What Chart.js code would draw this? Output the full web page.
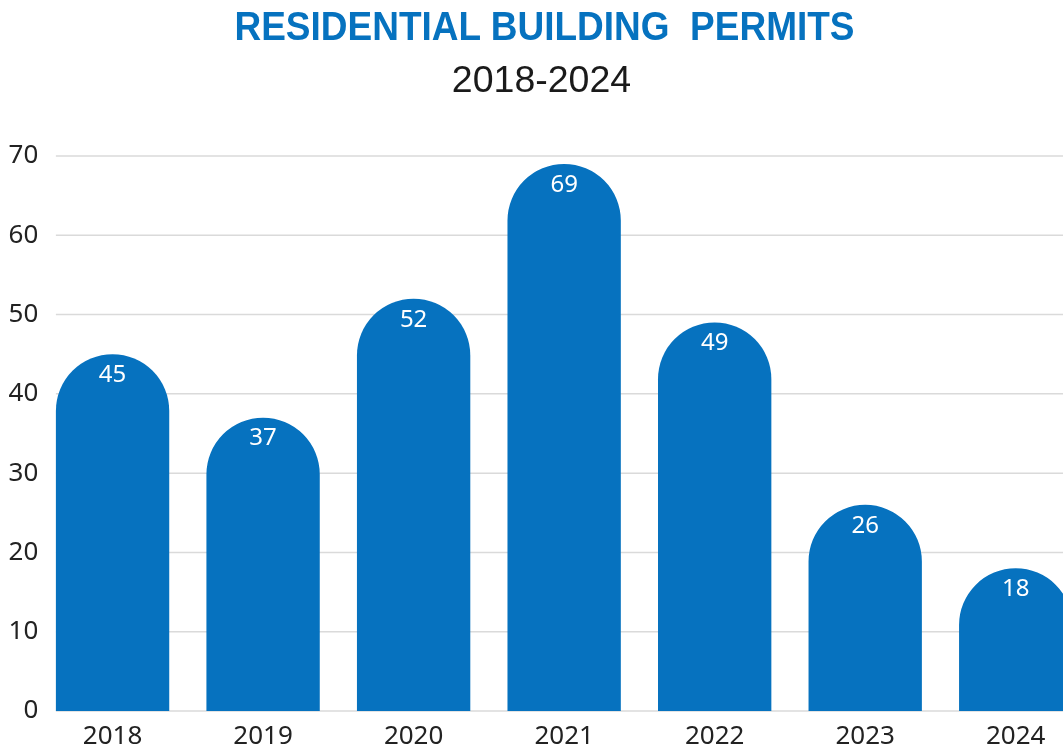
<!DOCTYPE html>
<html>
<head>
<meta charset="utf-8">
<script src="https://cdn.jsdelivr.net/npm/chart.js@4.4.1/dist/chart.umd.min.js"></script>
<style>
  html, body { margin: 0; padding: 0; background: #ffffff; overflow: hidden; }
  #wrap { position: relative; width: 1096px; height: 751px; }
  #titulo {
    position: absolute; top: 6px; left: 0; width: 1089px;
    text-align: center; white-space: pre;
    font: bold 40px/40px "Liberation Sans", Arial, sans-serif;
    color: #0672bf;
    transform: scaleX(0.925);
  }
  #subtitulo {
    position: absolute; top: 59px; left: 0; width: 1083px;
    text-align: center;
    font: 37.5px/40px "Liberation Sans", Arial, sans-serif;
    color: #1a1a1a;
  }
</style>
</head>
<body>
<div id="wrap">
  <div id="titulo">RESIDENTIAL BUILDING  PERMITS</div>
  <div id="subtitulo">2018-2024</div>
  <canvas id="chart" width="1096" height="751"></canvas>
</div>
<script>
// datos del gráfico
const anios = ['2018', '2019', '2020', '2021', '2022', '2023', '2024'];
const permisos = [45, 37, 52, 69, 49, 26, 18];
const ticksY = [0, 10, 20, 30, 40, 50, 60, 70];

const AZUL = '#0672bf';

// lineas de la grilla desde el borde izquierdo de la primera barra
const gridDesdeBarras = {
  id: 'gridDesdeBarras',
  beforeDatasetsDraw(chart) {
    const ctx = chart.ctx;
    const y = chart.scales.y;
    const primera = chart.getDatasetMeta(0).data[0];
    const x0 = primera.x - primera.width / 2;
    ctx.save();
    ctx.strokeStyle = '#dadada';
    ctx.lineWidth = 1.5;
    ticksY.forEach(t => {
      const py = y.getPixelForValue(t);
      ctx.beginPath();
      ctx.moveTo(x0, py);
      ctx.lineTo(chart.chartArea.right, py);
      ctx.stroke();
    });
    ctx.restore();
  }
};

// valores en blanco dentro de cada barra
const etiquetas = {
  id: 'etiquetas',
  afterDatasetsDraw(chart) {
    const ctx = chart.ctx;
    ctx.save();
    ctx.fillStyle = '#ffffff';
    ctx.font = '24px "Noto Sans"';
    ctx.textAlign = 'center';
    ctx.textBaseline = 'middle';
    chart.getDatasetMeta(0).data.forEach((bar, i) => {
      ctx.fillText(permisos[i], bar.x, bar.y + 21);
    });
    ctx.restore();
  }
};

new Chart(document.getElementById('chart'), {
  type: 'bar',
  data: {
    labels: anios,
    datasets: [{
      data: permisos,
      backgroundColor: AZUL,
      borderRadius: { topLeft: 999, topRight: 999, bottomLeft: 0, bottomRight: 0 },
      borderSkipped: 'start',
      barPercentage: 1,
      categoryPercentage: 0.753
    }]
  },
  options: {
    responsive: false,
    animation: false,
    layout: { padding: { left: 0, right: 5, top: 156, bottom: 1 } },
    plugins: {
      legend: { display: false },
      tooltip: { enabled: false }
    },
    scales: {
      x: {
        grid: { display: false, drawTicks: false },
        border: { display: false },
        afterFit(scale) { scale.height = 39; },
        ticks: {
          color: '#222',
          font: { family: '"Noto Sans"', size: 26 },
          padding: 10
        }
      },
      y: {
        min: 0,
        max: 70,
        grid: { display: false, drawTicks: false },
        border: { display: false },
        afterFit(scale) { scale.width = 37.3; },
        ticks: {
          stepSize: 10,
          color: '#222',
          font: { family: '"Noto Sans"', size: 26 },
          padding: -1
        }
      }
    }
  },
  plugins: [gridDesdeBarras, etiquetas]
});
</script>
</body>
</html>
